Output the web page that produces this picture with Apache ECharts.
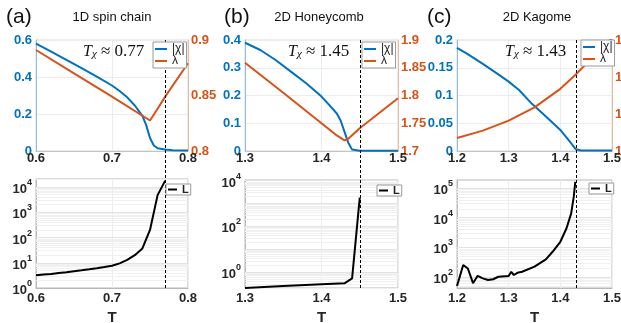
<!DOCTYPE html>
<html>
<head>
<meta charset="utf-8">
<script src="https://cdn.jsdelivr.net/npm/echarts@6/dist/echarts.min.js"></script>
<style>
html,body{margin:0;padding:0;background:#fff}
#charts{width:621px;height:323px}
</style>
</head>
<body>
<div id="charts"></div>
<script>
// (a) 1D spin chain
var tChiA = [0.6, 0.62, 0.64, 0.66, 0.68, 0.7, 0.71, 0.72, 0.73, 0.74, 0.745, 0.75, 0.755, 0.76, 0.77, 0.78, 0.8];
var chiA  = [0.58, 0.537, 0.493, 0.448, 0.402, 0.354, 0.324, 0.29, 0.246, 0.19, 0.14, 0.07, 0.03, 0.015, 0.008, 0.004, 0.003];
var tLamA = [0.6, 0.65, 0.7, 0.75, 0.76, 0.77, 0.8];
var lamA  = [0.891, 0.870, 0.849, 0.8275, 0.838, 0.849, 0.879];
var tLA   = [0.6, 0.61, 0.62, 0.63, 0.64, 0.65, 0.66, 0.67, 0.68, 0.69, 0.7, 0.71, 0.72, 0.73, 0.74, 0.75, 0.76, 0.77];
var LA    = [3.2, 3.4, 3.6, 3.9, 4.2, 4.6, 5.0, 5.5, 6.1, 6.8, 7.6, 9.5, 13, 20, 37, 200, 4800, 18000];

// (b) 2D Honeycomb
var tChiB = [1.3, 1.32, 1.34, 1.36, 1.38, 1.4, 1.41, 1.42, 1.425, 1.43, 1.435, 1.44, 1.45, 1.5];
var chiB  = [0.39, 0.364, 0.328, 0.286, 0.244, 0.196, 0.166, 0.135, 0.11, 0.07, 0.03, 0.005, 0.001, 0.001];
var tLamB = [1.3, 1.35, 1.4, 1.42, 1.43, 1.435, 1.45, 1.5];
var lamB  = [1.859, 1.805, 1.750, 1.728, 1.719, 1.722, 1.741, 1.795];
var tLB   = [1.3, 1.35, 1.4, 1.43, 1.44, 1.45];
var LB    = [0.2, 0.245, 0.29, 0.32, 0.53, 1800];

// (c) 2D Kagome
var tChiC = [1.2, 1.22, 1.25, 1.28, 1.3, 1.32, 1.345, 1.37, 1.4, 1.42, 1.43, 1.44, 1.5];
var chiC  = [0.186, 0.175, 0.157, 0.138, 0.125, 0.110, 0.085, 0.064, 0.038, 0.015, 0.003, 0.001, 0.001];
var tLamC = [1.2, 1.25, 1.3, 1.35, 1.4, 1.43, 1.45, 1.5];
var lamC  = [1.035, 1.055, 1.082, 1.118, 1.168, 1.207, 1.235, 1.305];
var tLC   = [1.2, 1.212, 1.221, 1.231, 1.24, 1.25, 1.26, 1.27, 1.28, 1.3, 1.305, 1.31, 1.317, 1.326, 1.35, 1.372, 1.385, 1.4, 1.412, 1.421, 1.426, 1.429];
var LC    = [50, 253, 194, 62, 110, 90, 79, 84, 102, 108, 150, 117, 139, 150, 223, 395, 710, 1540, 4400, 14000, 51000, 160000];

// axes
var tags    = ['(a)', '(b)', '(c)'];
var titles  = ['1D spin chain', '2D Honeycomb', '2D Kagome'];
var tChi    = [0.77, 1.45, 1.43];
var tChiTxt = ['0.77', '1.45', '1.43'];
var xMin = [0.6, 1.3, 1.2], xMax = [0.8, 1.5, 1.5];
var chiMax = [0.6, 0.4, 0.2], chiStep = [0.2, 0.1, 0.05];
var lamMin = [0.8, 1.7, 1.0], lamMax = [0.9, 1.9, 1.3], lamStep = [0.05, 0.05, 0.1];
var logMin = [0, -0.7, 1.63], logMax = [4.32, 4.03, 5.27];
var logLabels = [[0, 1, 2, 3, 4], [0, 2, 4], [2, 3, 4, 5]];

var blue = '#0072BD', orange = '#D95319', dark = '#262626';
var font = 'Liberation Sans, Arial, sans-serif';

var gridTop = [
    {left: 36, top: 40, width: 152, height: 111},
    {left: 245, top: 40, width: 153, height: 111},
    {left: 457, top: 40, width: 155, height: 111}
];
var gridBot = [
    {left: 36, top: 179, width: 152, height: 109},
    {left: 245, top: 180, width: 153, height: 108},
    {left: 457, top: 180, width: 155, height: 108}
];

var chiT = [tChiA, tChiB, tChiC], chiV = [chiA, chiB, chiC];
var lamT = [tLamA, tLamB, tLamC], lamV = [lamA, lamB, lamC];
var LT = [tLA, tLB, tLC], LV = [LA, LB, LC];

function pairs(xs, ys, f) {
    return xs.map(function (x, i) { return [x, f ? f(ys[i]) : ys[i]]; });
}

// grid lines of a log axis (decades + 2..9 minor), in log10 units
function logGridLines(lo, hi) {
    var out = [];
    for (var n = Math.floor(lo); n <= Math.ceil(hi); n++) {
        if (n > lo && n < hi) out.push({yAxis: n, lineStyle: {color: '#e3e3e3', type: 'solid', width: 1}});
        for (var k = 2; k <= 9; k++) {
            var e = n + Math.log10(k);
            if (e > lo && e < hi) out.push({yAxis: e, lineStyle: {color: '#f0f0f0', type: 'solid', width: 1}});
        }
    }
    return out;
}

var grids = [], xAxes = [], yAxes = [], series = [], legends = [], graphics = [];

for (var i = 0; i < 3; i++) {
    grids.push(Object.assign({show: true, borderColor: '#d9d9d9', borderWidth: 1, backgroundColor: '#fff',
        outerBoundsMode: 'none', containLabel: false}, gridTop[i]));
}
for (var i = 0; i < 3; i++) {
    grids.push(Object.assign({show: true, borderColor: '#b8b8b8', borderWidth: 1, backgroundColor: '#fff',
        outerBoundsMode: 'none', containLabel: false}, gridBot[i]));
}

var xLabel = {color: dark, fontWeight: 'bold', fontSize: 13, fontFamily: font};
for (var r = 0; r < 2; r++) {
    for (var i = 0; i < 3; i++) {
        xAxes.push({
            type: 'value', gridIndex: r * 3 + i, min: xMin[i], max: xMax[i], interval: 0.1,
            name: r ? 'T' : '', nameLocation: 'middle', nameGap: 22,
            nameTextStyle: {color: dark, fontWeight: 'bold', fontSize: 15, fontFamily: font},
            axisLine: {show: true, lineStyle: {color: r ? '#b8b8b8' : '#c4c4c4'}},
            axisTick: {show: false},
            axisLabel: Object.assign({margin: r ? 4 : 1, hideOverlap: false}, xLabel),
            splitLine: {show: true, lineStyle: {color: '#ececec'}}
        });
    }
}

// top left (|chi|)
for (var i = 0; i < 3; i++) {
    yAxes.push({
        type: 'value', gridIndex: i, position: 'left', min: 0, max: chiMax[i], interval: chiStep[i],
        axisLine: {show: true, lineStyle: {color: '#8fbde3'}},
        axisTick: {show: false},
        axisLabel: {color: blue, fontWeight: 'bold', fontSize: 13, fontFamily: font, margin: 4},
        splitLine: {show: true, lineStyle: {color: '#ececec'}}
    });
}
// top right (lambda)
for (var i = 0; i < 3; i++) {
    yAxes.push({
        type: 'value', gridIndex: i, position: 'right', min: lamMin[i], max: lamMax[i], interval: lamStep[i],
        axisLine: {show: true, lineStyle: {color: '#f0b8a0'}},
        axisTick: {show: false},
        axisLabel: {color: orange, fontWeight: 'bold', fontSize: 13, fontFamily: font, margin: 3},
        splitLine: {show: false}
    });
}
// bottom (L, log10 units)
for (var i = 0; i < 3; i++) {
    yAxes.push({
        type: 'value', gridIndex: 3 + i, min: logMin[i], max: logMax[i],
        axisLine: {show: true, lineStyle: {color: '#b8b8b8'}},
        axisTick: {show: false},
        splitLine: {show: false},
        axisLabel: {
            customValues: logLabels[i], margin: 4,
            formatter: function (v) { return '{b|10}{s|' + Math.round(v) + '}'; },
            rich: {
                b: {fontSize: 13, fontWeight: 'bold', color: dark, fontFamily: font, lineHeight: 18, verticalAlign: 'bottom'},
                s: {fontSize: 9, fontWeight: 'bold', color: dark, fontFamily: font, lineHeight: 9, verticalAlign: 'top'}
            }
        }
    });
}

for (var i = 0; i < 3; i++) {
    series.push({
        type: 'line', name: '|χ|', xAxisIndex: i, yAxisIndex: i, showSymbol: false, z: 3,
        color: blue, lineStyle: {width: 2, color: blue, type: 'solid'},
        data: pairs(chiT[i], chiV[i])
    });
    series.push({
        type: 'line', name: 'λ', xAxisIndex: i, yAxisIndex: 3 + i, showSymbol: false, z: 3,
        color: orange, lineStyle: {width: 2, color: orange, type: 'solid'},
        data: pairs(lamT[i], lamV[i])
    });
    // faint log grid, kept in its own series under the curve
    series.push({
        type: 'line', name: 'grid' + i, xAxisIndex: 3 + i, yAxisIndex: 6 + i, showSymbol: false, z: 1,
        silent: true, data: [],
        markLine: {
            silent: true, z: 1, symbol: ['none', 'none'], label: {show: false}, animation: false,
            data: logGridLines(logMin[i], logMax[i])
        }
    });
    series.push({
        type: 'line', name: 'L', xAxisIndex: 3 + i, yAxisIndex: 6 + i, showSymbol: false, z: 3,
        color: '#000', lineStyle: {width: 2, color: '#000', type: 'solid'},
        data: pairs(LT[i], LV[i], Math.log10)
    });
}

var legendBase = {
    orient: 'vertical', icon: 'rect', itemWidth: 12, itemHeight: 2, itemGap: 0,
    backgroundColor: '#fff', borderColor: '#9a9a9a', borderWidth: 1, borderRadius: 0,
    padding: [1, 2, 1, 2], textStyle: {fontSize: 12, color: '#222', fontFamily: font}, z: 6
};
var legTop = [[153, 42], [362, 42], [581, 40]];
var legBot = [[166, 184], [377, 185], [589, 183]];
for (var i = 0; i < 3; i++) {
    legends.push(Object.assign({}, legendBase, {data: ['|χ|', 'λ'], left: legTop[i][0], top: legTop[i][1]}));
}
for (var i = 0; i < 3; i++) {
    legends.push(Object.assign({}, legendBase, {data: ['L'], itemWidth: 9, left: legBot[i][0], top: legBot[i][1],
        padding: [0, 2, 0, 2], textStyle: {fontSize: 11, fontWeight: 'bold', color: '#222', fontFamily: font}}));
}

var tagX = [6, 224, 427], titleX = [112, 319, 537], annX = [83, 288, 505];
for (var i = 0; i < 3; i++) {
    graphics.push({type: 'text', x: tagX[i], y: 17, style: {text: tags[i], font: '21px ' + font, fill: '#111', verticalAlign: 'middle'}});
    graphics.push({type: 'text', x: titleX[i], y: 17, style: {text: titles[i], font: '13px ' + font, fill: '#111', align: 'center', verticalAlign: 'middle'}});
    graphics.push({
        type: 'text', x: annX[i], y: 50, z: 5,
        style: {
            text: '{t|T}{c|χ}{n| ≈ ' + tChiTxt[i] + '}', verticalAlign: 'middle',
            rich: {
                t: {fontSize: 16, fontStyle: 'italic', fontFamily: 'Liberation Serif, serif', fill: '#111', lineHeight: 20, verticalAlign: 'bottom'},
                c: {fontSize: 11, fontStyle: 'italic', fontFamily: 'Liberation Serif, serif', fill: '#111', lineHeight: 10, verticalAlign: 'bottom'},
                n: {fontSize: 17, fontFamily: 'Liberation Serif, serif', fill: '#111', lineHeight: 20, verticalAlign: 'bottom'}
            }
        }
    });
}

var myChart = echarts.init(document.getElementById('charts'), null, {renderer: 'canvas'});
myChart.setOption({
    animation: false,
    grid: grids, xAxis: xAxes, yAxis: yAxes, series: series, legend: legends,
    graphic: graphics
});

// dashed T_chi line through both rows, placed with the axes' own scales
var dashes = [];
for (var i = 0; i < 3; i++) {
    var x = myChart.convertToPixel({xAxisIndex: i}, tChi[i]);
    var y1 = myChart.convertToPixel({yAxisIndex: i}, chiMax[i]);
    var y2 = myChart.convertToPixel({yAxisIndex: 6 + i}, logMin[i]);
    dashes.push({
        type: 'line', id: 'dash' + i, z: 4, silent: true,
        shape: {x1: Math.round(x) + 0.5, y1: y1, x2: Math.round(x) + 0.5, y2: y2},
        style: {stroke: '#000', lineWidth: 1, lineDash: [3, 2]}
    });
}
myChart.setOption({graphic: graphics.concat(dashes)});
</script>
</body>
</html>
